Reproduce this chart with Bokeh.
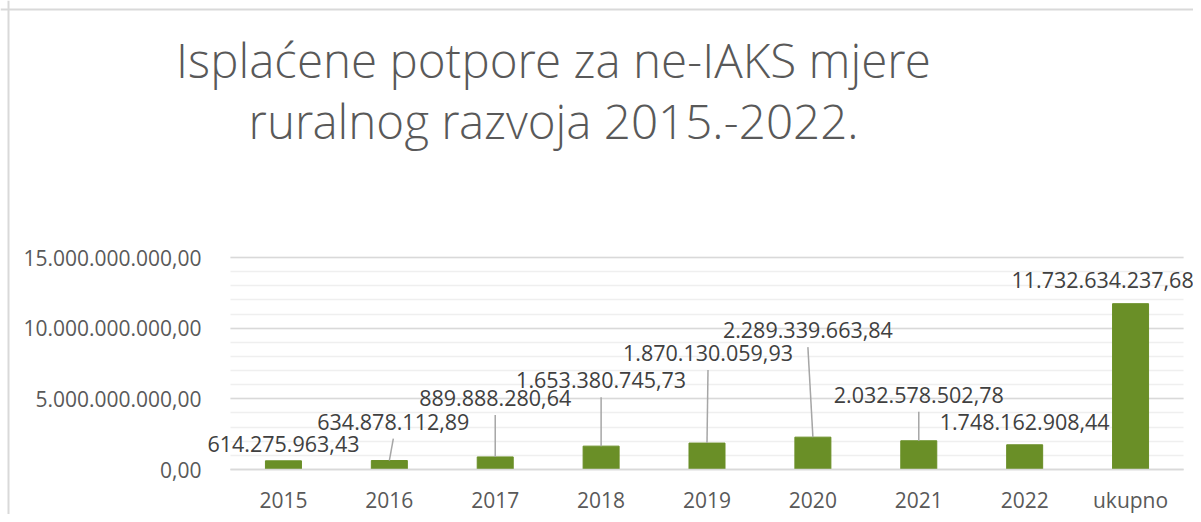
from bokeh.plotting import figure
from bokeh.models import (Range1d, FixedTicker, ColumnDataSource, Label, LabelSet,
                          CustomJSTickFormatter, Span)
from bokeh.core.properties import value
from bokeh.embed import file_html
from bokeh.resources import INLINE

# ---- data ----
categories = ["2015", "2016", "2017", "2018", "2019", "2020", "2021", "2022", "ukupno"]
payments = [614275963.43, 634878112.89, 889888280.64, 1653380745.73, 1870130059.93,
            2289339663.84, 2032578502.78, 1748162908.44, 11732634237.68]
y_ticks = [0, 5e9, 10e9, 15e9]
y_minor_step = 1e9
title_lines = ["Isplaćene potpore za ne-IAKS mjere", "ruralnog razvoja 2015.-2022."]

# ---- label placement (style, pixels) ----
label_dx = [0, 4, 0, 0, 1, -5, 0, 0, -28]
label_dy = [17, 39, 59, 66, 90, 107, 46, 23, 24]
leader = [False, True, True, True, True, True, True, False, False]
LEADER_GAP = 17

# ---- layout (canvas pixels) ----
W, H = 1193, 514
PLOT_L, PLOT_R = 230, 1183      # plot area left / right edge
PLOT_T, PLOT_B = 257, 469       # plot area top / bottom edge
Y_MAX = y_ticks[-1]
N = len(categories)
cat_w = (PLOT_R - PLOT_L) / N
upp = Y_MAX / (PLOT_B - PLOT_T)


def px_x(px):
    return (px - PLOT_L) / cat_w


def px_y(py):
    return (PLOT_B - py) * upp


def fmt(v):
    s = f"{v:,.2f}"
    return s.replace(",", "X").replace(".", ",").replace("X", ".")


p = figure(x_range=Range1d(px_x(0), px_x(W)), y_range=Range1d(px_y(H), px_y(0)),
           width=W, height=H, min_border=0,
           output_backend="svg", toolbar_location=None, tools="")
p.outline_line_color = None
p.background_fill_color = "white"
p.border_fill_color = "white"

xpos = [i + 0.5 for i in range(N)]

minor = []
t = 0.0
while t <= Y_MAX:
    minor.append(t)
    t += y_minor_step

p.ygrid.ticker = FixedTicker(ticks=y_ticks, minor_ticks=minor)
p.ygrid.cross_bounds = (0, N)
p.ygrid.grid_line_color = "#d9d9d9"
p.ygrid.grid_line_width = 1.5
p.ygrid.minor_grid_line_color = "#efefef"
p.ygrid.minor_grid_line_width = 1.5
p.xgrid.grid_line_color = None

p.yaxis.fixed_location = 0
p.yaxis.ticker = FixedTicker(ticks=y_ticks)
p.yaxis.formatter = CustomJSTickFormatter(code="""
const s = tick.toFixed(2).split(".");
return s[0].replace(/\\B(?=(\\d{3})+(?!\\d))/g, ".") + "," + s[1];
""")
p.yaxis.axis_line_color = None
p.yaxis.major_tick_line_color = None
p.yaxis.minor_tick_line_color = None
p.yaxis.major_label_text_font = "Open Sans"
p.yaxis.major_label_text_font_size = "21px"
p.yaxis.major_label_text_color = "#595959"
p.yaxis.major_label_standoff = 23

p.xaxis.fixed_location = 0
p.xaxis.bounds = (0, N)
p.xaxis.ticker = FixedTicker(ticks=xpos)
p.xaxis.formatter = CustomJSTickFormatter(args=dict(cats=categories),
                                          code="return cats[Math.floor(tick)];")
p.xaxis.axis_line_color = "#d9d9d9"
p.xaxis.axis_line_width = 1.5
p.xaxis.major_tick_line_color = None
p.xaxis.minor_tick_line_color = None
p.xaxis.major_label_text_font = "Open Sans"
p.xaxis.major_label_text_font_size = "21px"
p.xaxis.major_label_text_color = "#595959"
p.xaxis.major_label_standoff = 10

p.vbar(x=xpos, top=payments, width=0.34, color="#6a8f27")

# data labels
lx, ly, lt = [], [], []
sx0, sy0, sx1, sy1 = [], [], [], []
for i, v in enumerate(payments):
    xc = xpos[i]
    x_lab = xc + label_dx[i] / cat_w
    y_lab = v + label_dy[i] * upp
    lx.append(x_lab)
    ly.append(y_lab)
    lt.append(fmt(v))
    if leader[i]:
        sx0.append(xc)
        sy0.append(v)
        sx1.append(x_lab)
        sy1.append(v + (label_dy[i] - LEADER_GAP) * upp)

p.segment(x0=sx0, y0=sy0, x1=sx1, y1=sy1, line_color="#a6a6a6", line_width=1.5)

src = ColumnDataSource(dict(x=lx, y=ly, text=lt))
p.add_layout(LabelSet(x="x", y="y", text="text", source=src,
                      text_font=value("Open Sans"), text_font_size="21.5px",
                      text_color="#404040", text_align="center", text_baseline="middle"))

# chart border (left and top edge of the chart box)
p.add_layout(Span(location=px_x(8), dimension="height", line_color="#d9d9d9", line_width=2))
p.add_layout(Span(location=px_y(9), dimension="width", line_color="#d9d9d9", line_width=2))

# title
title_y = [59, 120]
for k, line in enumerate(title_lines):
    p.add_layout(Label(x=px_x(553), y=px_y(title_y[k]),
                       text=line, text_font="Open Sans Light", text_font_size="47.5px",
                       text_color="#595959", text_align="center", text_baseline="middle"))

open("out.html", "w").write(file_html(p, INLINE))
